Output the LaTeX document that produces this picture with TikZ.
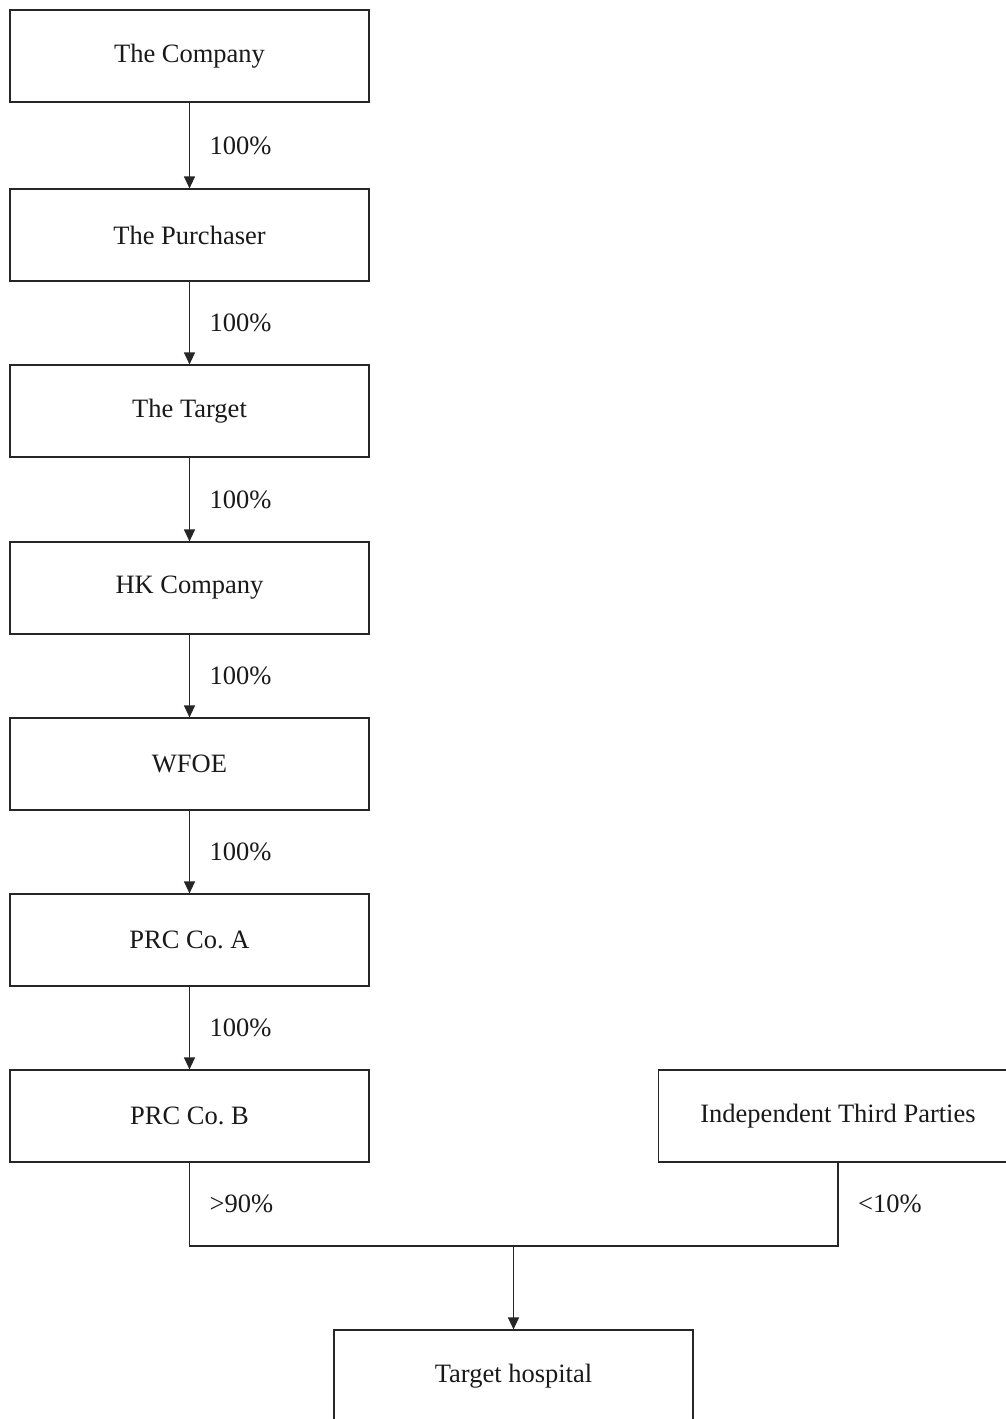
\documentclass[tikz,border=0pt]{standalone}
\usepackage{fontspec}
\setmainfont{Liberation Serif}
\usepackage{tikz}
\usetikzlibrary{arrows.meta}

\begin{document}
\begin{tikzpicture}[x=0.5pt,y=-0.5pt,line width=0.6pt,draw=black!85,
    >={Triangle[length=6pt,width=5.5pt]}]
  \useasboundingbox (0,0) rectangle (1006,1419);
  \tikzstyle{every node}=[font=\fontsize{13.25}{16}\selectfont, text=black!90]
  \tikzstyle{entity}=[draw, minimum width=179.5pt, minimum height=46pt, inner sep=0pt]
  \tikzstyle{share}=[midway, anchor=west, xshift=6.4pt]
  % ownership chain
  \foreach \n/\y/\t in {A/56/The Company, B/235/The Purchaser, C/411/The Target,
      D/588/HK Company, E/764/WFOE, F/940/PRC Co.\ A, G/1116/PRC Co.\ B}{
    \node[entity] (n\n) at (189.5,\y) {\t};
  }
  \node[entity] (nI) at (838,1116) {Independent Third Parties};
  \node[entity] (nH) at (513.5,1376) {Target hospital};
  \foreach \a/\b in {A/B,B/C,C/D,D/E,E/F,F/G}{
    \draw[->] (n\a) -- (n\b) node[share] {100\%};
  }
  % joint holding
  \coordinate (jL) at (189.5,1246);
  \coordinate (jR) at (838,1246);
  \coordinate (jM) at (513.5,1246);
  \draw (nG.south) -- (jL) node[share] {>90\%} -- (jR) -- (nI.south)
    node[share] {<10\%};
  \draw[->] (jM) -- (nH.north);
\end{tikzpicture}
\end{document}
